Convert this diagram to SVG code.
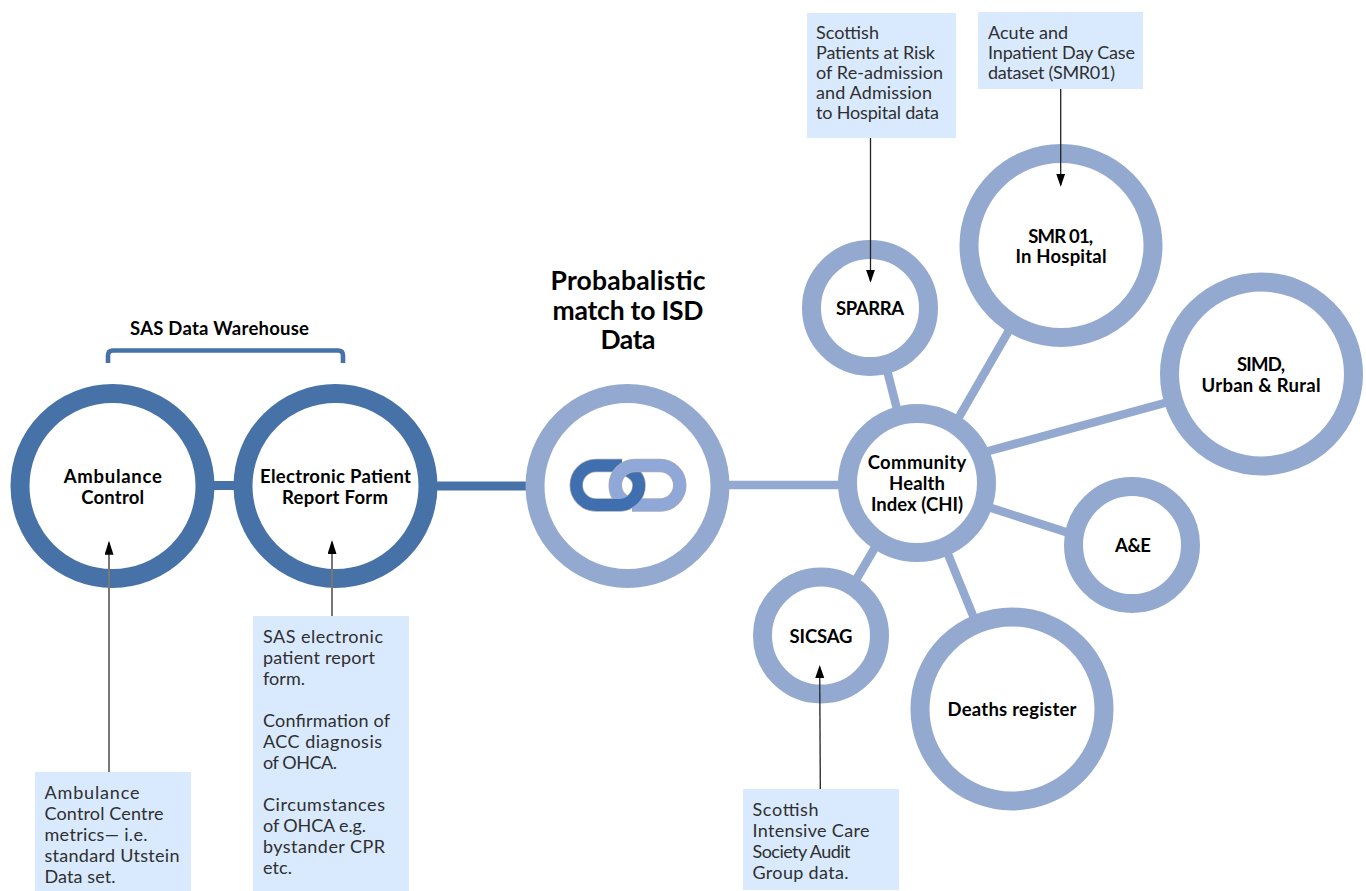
<svg xmlns="http://www.w3.org/2000/svg" width="1366" height="891" viewBox="0 0 1366 891">
<style>
text{font-family:"Lato","Open Sans","Liberation Sans",sans-serif;transform:translateY(.6px)}
.b{font-weight:700;font-size:18.500px;text-anchor:middle;fill:#000}
.t{font-size:18px;fill:#2f2f2f}
.h{font-weight:700;font-size:26.500px;text-anchor:middle;fill:#000}
.dk{fill:#fff;stroke:#4672a8;stroke-width:19}
.lt{fill:#fff;stroke:#94a9d0;stroke-width:19}
.ld{stroke:#4672a8;stroke-width:9;fill:none}
.ll{stroke:#94a9d0;fill:none;stroke-width:8.500}
.box{fill:#daeafe}
.ar{stroke:#222;stroke-width:1.300;fill:none;marker-end:url(#a)}
.ag{stroke:#777;stroke-width:2;fill:none;marker-end:url(#a2)}
.lk{fill:none;stroke-width:12}
.lko{fill:none;stroke-width:13.500;stroke:#a9acb4}
</style>
<defs>
<marker id="a" markerUnits="userSpaceOnUse" markerWidth="14" markerHeight="10" refX="11" refY="4.500" orient="auto"><path d="M0 0L13 4.500L0 9Z" fill="#000"/></marker>
<marker id="a2" markerUnits="userSpaceOnUse" markerWidth="15" markerHeight="10" refX="12" refY="4.500" orient="auto"><path d="M0 0L14 4.500L0 9Z" fill="#000"/></marker>
<path id="ln1" d="M632 505H660A19.750 19.750 0 0 0 660 465.500H635A19.750 19.750 0 0 0 615.250 485.250C615.250 494 620 500 628 503"/>
<path id="ln2" d="M622 465.500H596A19.750 19.750 0 0 0 596 505H619A19.750 19.750 0 0 0 639 485.250C639 478 634 473 627 470"/>
<path id="ln3" d="M606 505H619A19.750 19.750 0 0 0 639 485.250"/>
</defs>
<g id="connectors">
<path class="ld" d="M205 485.500H245M430 486H535"/>
<path class="ll" stroke-width="9" d="M720 485H850"/>
<path class="ll" d="M887.500 372L898 413M1015 320L955 424M1172 401L985 452M1072 534L985 506M974 618L945 547M880 539L853 585"/>
<path d="M108 363V355.500Q108 350.500 113 350.500H338Q343 350.500 343 355.500V363" fill="none" stroke="#4672a8" stroke-width="4.600"/>
</g>
<g id="ambulance"><circle class="dk" cx="112.500" cy="486" r="92.500"/><text class="b" x="112.800" y="482" textLength="98">Ambulance</text><text class="b" x="112.700" y="503" textLength="63">Control</text></g>
<g id="epr"><circle class="dk" cx="335.500" cy="486" r="92.500"/><text class="b" x="335.500" y="482" textLength="151">Electronic Patient</text><text class="b" x="335" y="503" textLength="106">Report Form</text></g>
<g id="match"><circle class="lt" cx="627.500" cy="486" r="92.500"/>
<use href="#ln2" class="lko"/><use href="#ln2" class="lk" stroke="#3f6fae"/>
<use href="#ln1" class="lko"/><use href="#ln1" class="lk" stroke="#8fa8d8"/>
<use href="#ln3" class="lk" stroke="#3f6fae"/>
</g>
<g id="chi"><circle class="lt" cx="917" cy="483" r="69.500"/><text class="b" x="917" y="468" textLength="98.500">Community</text><text class="b" x="917" y="489" textLength="56">Health</text><text class="b" x="917" y="510" textLength="92">Index (CHI)</text></g>
<g id="sparra"><circle class="lt" cx="870" cy="308" r="58.500"/><text class="b" x="870" y="314" textLength="68">SPARRA</text></g>
<g id="smr"><circle class="lt" cx="1061" cy="245.500" r="92"/><text class="b" x="1060.700" y="242" textLength="65">SMR 01,</text><text class="b" x="1061" y="262" textLength="91">In Hospital</text></g>
<g id="simd"><circle class="lt" cx="1261.500" cy="374" r="92"/><text class="b" x="1261" y="370" textLength="48">SIMD,</text><text class="b" x="1261" y="391" textLength="119">Urban &amp; Rural</text></g>
<g id="ae"><circle class="lt" cx="1132" cy="545" r="58.500"/><text class="b" x="1133" y="551" textLength="36">A&amp;E</text></g>
<g id="deaths"><circle class="lt" cx="1012" cy="709" r="92"/><text class="b" x="1012" y="715" textLength="129">Deaths register</text></g>
<g id="sicsag"><circle class="lt" cx="821" cy="635.500" r="58.500"/><text class="b" x="821" y="642" textLength="63">SICSAG</text></g>
<g id="labels"><text class="b" x="219.500" y="334" textLength="179">SAS Data Warehouse</text>
<text class="h" x="628" y="289.500" textLength="155">Probabalistic</text><text class="h" x="628" y="319" textLength="151">match to ISD</text><text class="h" x="628" y="348" textLength="55">Data</text></g>
<g id="note-acc"><rect class="box" x="35" y="772" width="156" height="119"/><text class="t" x="44.500" y="798" textLength="95">Ambulance</text><text class="t" x="44.500" y="819" textLength="119">Control Centre</text><text class="t" x="44.500" y="840" textLength="103">metrics— i.e.</text><text class="t" x="44.500" y="861" textLength="135">standard Utstein</text><text class="t" x="44.500" y="882" textLength="71">Data set.</text></g>
<g id="note-epr"><rect class="box" x="253" y="616" width="156" height="275"/><text class="t" x="263" y="642" textLength="120">SAS electronic</text><text class="t" x="263" y="663" textLength="112">patient report</text><text class="t" x="263" y="684" textLength="42">form.</text><text class="t" x="263" y="726" textLength="127">Confirmation of</text><text class="t" x="263" y="747" textLength="119">ACC diagnosis</text><text class="t" x="263" y="768" textLength="74">of OHCA.</text><text class="t" x="263" y="810" textLength="122">Circumstances</text><text class="t" x="263" y="831" textLength="103">of OHCA e.g.</text><text class="t" x="263" y="852" textLength="122">bystander CPR</text><text class="t" x="263" y="873" textLength="29">etc.</text></g>
<g id="note-sicsag"><rect class="box" x="743" y="789" width="156" height="101"/><text class="t" x="752.500" y="815" textLength="66">Scottish</text><text class="t" x="752.500" y="836" textLength="117">Intensive Care</text><text class="t" x="752.500" y="857" textLength="98">Society Audit</text><text class="t" x="752.500" y="878" textLength="96">Group data.</text></g>
<g id="note-sparra"><rect class="box" x="807" y="13" width="149" height="125"/><text class="t" x="816" y="38" textLength="63">Scottish</text><text class="t" x="816" y="58" textLength="119">Patients at Risk</text><text class="t" x="816" y="78" textLength="127">of Re-admission</text><text class="t" x="816" y="98" textLength="116">and Admission</text><text class="t" x="816" y="118" textLength="123">to Hospital data</text></g>
<g id="note-smr"><rect class="box" x="978" y="12" width="165" height="77"/><text class="t" x="988" y="38" textLength="80">Acute and</text><text class="t" x="988" y="58" textLength="147">Inpatient Day Case</text><text class="t" x="988" y="78" textLength="127">dataset (SMR01)</text></g>
<g id="arrows">
<path class="ag" d="M109 772V542.700"/><path class="ag" d="M332 616V542"/><path class="ar" d="M820.300 789L819.700 667"/><path class="ar" d="M870.500 138V280.700"/><path class="ar" d="M1060.700 89V184.700"/>
</g>
</svg>
